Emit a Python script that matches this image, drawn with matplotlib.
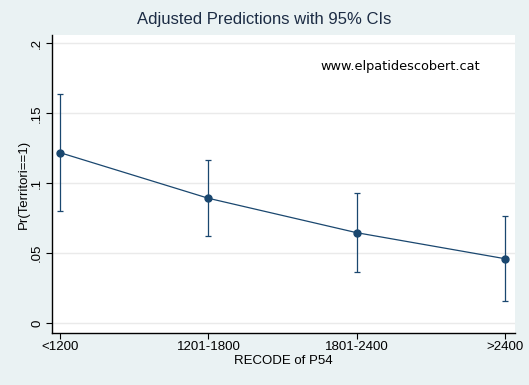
import matplotlib.pyplot as plt
import numpy as np

# %% Style
BG_COLOR = "#eaf2f3"
LINE_COLOR = "#1a476f"
GRID_COLOR = "#eaeaea"

plt.rcParams.update(
    {
        "font.family": "Liberation Sans",
        "font.size": 9.5,
        "axes.spines.right": False,
        "axes.spines.top": False,
        "axes.linewidth": 1.0,
        "xtick.major.size": 4,
        "ytick.major.size": 4,
    }
)

# %% Data
categories = ["<1200", "1201-1800", "1801-2400", ">2400"]
margins = [0.1219, 0.0893, 0.0647, 0.0461]
ci_low = [0.0800, 0.0621, 0.0364, 0.0157]
ci_high = [0.1636, 0.1164, 0.0929, 0.0764]
y_ticks = [0, 0.05, 0.1, 0.15, 0.2]
y_tick_labels = ["0", ".05", ".1", ".15", ".2"]

if __name__ == "__main__":
    fig = plt.figure(figsize=(5.29, 3.85), dpi=100, facecolor=BG_COLOR)
    ax = fig.add_axes([0.0974, 0.1356, 0.8762, 0.7722])
    ax.set_facecolor("white")

    x = np.arange(len(categories))
    y = np.array(margins)
    yerr = [y - np.array(ci_low), np.array(ci_high) - y]

    ax.errorbar(
        x, y, yerr=yerr, fmt="o-", color=LINE_COLOR, ms=5, lw=0.9,
        elinewidth=0.9, capsize=2, capthick=0.9, zorder=3,
    )

    ax.set_xlim(-0.057, 3.066)
    ax.set_ylim(-0.0068, 0.2056)
    ax.set_xticks(x)
    ax.set_xticklabels(categories)
    ax.set_yticks(y_ticks)
    ax.set_yticklabels(y_tick_labels, rotation=90, va="center")
    ax.tick_params(axis="both", colors="black", pad=2)
    ax.grid(True, axis="y", color=GRID_COLOR, lw=1)
    ax.set_axisbelow(True)

    ax.set_xlabel("RECODE of P54", labelpad=1.5)
    ax.set_ylabel("Pr(Territori==1)", labelpad=1)
    fig.suptitle("Adjusted Predictions with 95% CIs", y=0.968, fontsize=12, color="#1c2c44")

    ax.text(0.581, 0.895, "www.elpatidescobert.cat", transform=ax.transAxes,
            family="DejaVu Sans", fontsize=9.3, va="center", ha="left", color="black")

    fig.savefig("out.png", dpi=100, facecolor=BG_COLOR)
